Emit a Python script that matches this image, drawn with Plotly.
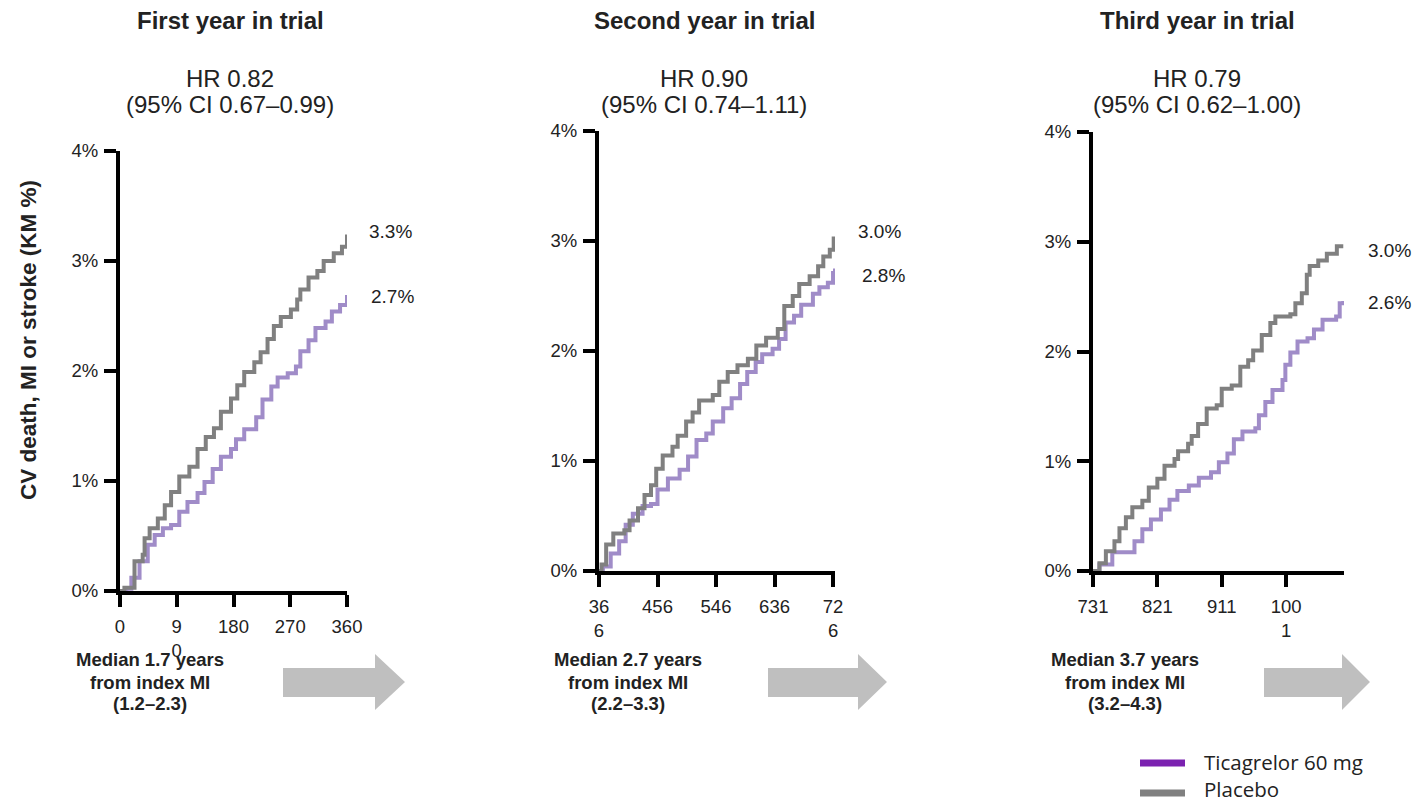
import plotly.graph_objects as go

W, H = 1417, 802

# ---- data: cumulative KM event rate (%) by day since randomisation ----
p1_days_placebo = [0, 7, 23, 36, 39, 47, 60, 71, 81, 94, 110, 123, 136, 149, 160, 176, 186, 197, 213, 223, 234, 244, 255, 271, 281, 286, 299, 313, 323, 339, 352, 360]
p1_pct_placebo = [0, 0.03, 0.27, 0.33, 0.48, 0.57, 0.66, 0.78, 0.90, 1.04, 1.13, 1.29, 1.40, 1.48, 1.63, 1.75, 1.87, 1.99, 2.08, 2.17, 2.29, 2.41, 2.49, 2.56, 2.65, 2.74, 2.85, 2.91, 3.00, 3.07, 3.13, 3.24]
p1_days_tica = [0, 10, 18, 31, 44, 55, 68, 81, 94, 107, 123, 134, 147, 160, 176, 184, 197, 216, 226, 240, 250, 266, 279, 286, 299, 310, 326, 336, 349, 360]
p1_pct_tica = [0, 0.02, 0.12, 0.27, 0.42, 0.51, 0.57, 0.60, 0.72, 0.81, 0.89, 0.99, 1.11, 1.22, 1.29, 1.38, 1.47, 1.58, 1.74, 1.86, 1.94, 1.98, 2.04, 2.18, 2.28, 2.39, 2.45, 2.54, 2.60, 2.69]

p2_days_placebo = [366, 370, 377, 388, 405, 413, 426, 436, 446, 454, 464, 479, 487, 500, 510, 520, 541, 551, 564, 579, 595, 608, 623, 641, 651, 664, 674, 690, 703, 711, 721, 727]
p2_pct_placebo = [0, 0.06, 0.24, 0.34, 0.37, 0.46, 0.57, 0.69, 0.78, 0.93, 1.05, 1.13, 1.23, 1.36, 1.44, 1.55, 1.60, 1.72, 1.81, 1.87, 1.93, 2.05, 2.12, 2.20, 2.41, 2.50, 2.61, 2.68, 2.77, 2.86, 2.92, 3.04]
p2_days_tica = [366, 372, 384, 397, 407, 418, 433, 446, 456, 472, 490, 503, 516, 531, 541, 557, 570, 583, 594, 607, 617, 633, 643, 653, 666, 677, 695, 705, 718, 726, 729]
p2_pct_tica = [0, 0.04, 0.16, 0.27, 0.42, 0.52, 0.59, 0.61, 0.74, 0.84, 0.92, 1.04, 1.19, 1.25, 1.36, 1.48, 1.57, 1.70, 1.81, 1.90, 1.97, 2.02, 2.11, 2.26, 2.32, 2.42, 2.52, 2.58, 2.62, 2.71, 2.75]

p3_days_placebo = [731, 740, 749, 761, 768, 777, 786, 800, 809, 821, 831, 845, 850, 864, 869, 878, 890, 904, 911, 925, 937, 948, 955, 967, 979, 986, 1007, 1014, 1023, 1030, 1034, 1046, 1058, 1072, 1081]
p3_pct_placebo = [0, 0.07, 0.18, 0.27, 0.39, 0.49, 0.58, 0.64, 0.76, 0.84, 0.96, 1.02, 1.09, 1.16, 1.23, 1.34, 1.48, 1.51, 1.66, 1.69, 1.86, 1.92, 2.01, 2.15, 2.26, 2.32, 2.34, 2.44, 2.53, 2.70, 2.78, 2.83, 2.89, 2.96, 2.96]
p3_days_tica = [731, 740, 751, 758, 777, 789, 800, 812, 826, 838, 849, 865, 879, 896, 907, 919, 928, 940, 958, 963, 972, 982, 996, 1000, 1007, 1017, 1031, 1040, 1052, 1071, 1076, 1081]
p3_pct_tica = [0, 0.06, 0.06, 0.17, 0.17, 0.27, 0.38, 0.47, 0.56, 0.65, 0.73, 0.78, 0.85, 0.90, 0.99, 1.07, 1.20, 1.27, 1.30, 1.42, 1.54, 1.65, 1.74, 1.88, 1.99, 2.09, 2.12, 2.20, 2.29, 2.32, 2.44, 2.46]

# ---- tick labels ----
y_tickvals = [0, 1, 2, 3, 4]
y_ticktext = ["0%", "1%", "2%", "3%", "4%"]
p1_tickvals = [0, 90, 180, 270, 360]
p1_ticktext = ["0", "9<br>0", "180", "270", "360"]
p2_tickvals = [366, 456, 546, 636, 726]
p2_ticktext = ["36<br>6", "456", "546", "636", "72<br>6"]
p3_tickvals = [731, 821, 911, 1001]
p3_ticktext = ["731", "821", "911", "100<br>1"]

titles = ["First year in trial", "Second year in trial", "Third year in trial"]
hr_lines = ["HR 0.82", "HR 0.90", "HR 0.79"]
ci_lines = ["(95% CI 0.67–0.99)", "(95% CI 0.74–1.11)", "(95% CI 0.62–1.00)"]
median_lines = [
    ["Median 1.7 years", "from index MI", "(1.2–2.3)"],
    ["Median 2.7 years", "from index MI", "(2.2–3.3)"],
    ["Median 3.7 years", "from index MI", "(3.2–4.3)"],
]
end_labels_placebo = ["3.3%", "3.0%", "3.0%"]
end_labels_tica = ["2.7%", "2.8%", "2.6%"]
series_names = ["Ticagrelor 60 mg", "Placebo"]

# ---- styling ----
PURPLE_LINE = "#A08CC8"
PURPLE_KEY = "#7B22B0"
GRAY = "#808080"
ARROW = "#BFBFBF"
TXT = "#222222"
FONT = "Liberation Sans, Arial, sans-serif"


def px(x):
    return x / W


def py(y):
    return 1 - y / H


# panel geometry in pixels: left, right, top(4%), bottom(0%), x range
panels = [
    dict(l=120, r=347, t=151, b=591, rng=[0, 360], tv=p1_tickvals, tt=p1_ticktext,
         plc=(p1_days_placebo, p1_pct_placebo), tic=(p1_days_tica, p1_pct_tica)),
    dict(l=599, r=835, t=131, b=571, rng=[366, 729], tv=p2_tickvals, tt=p2_ticktext,
         plc=(p2_days_placebo, p2_pct_placebo), tic=(p2_days_tica, p2_pct_tica)),
    dict(l=1093, r=1344, t=132, b=571, rng=[731, 1082], tv=p3_tickvals, tt=p3_ticktext,
         plc=(p3_days_placebo, p3_pct_placebo), tic=(p3_days_tica, p3_pct_tica)),
]

fig = go.Figure()
layout = dict(
    width=W, height=H, margin=dict(l=0, r=0, t=0, b=0, autoexpand=False),
    paper_bgcolor="white", plot_bgcolor="white", showlegend=False,
    font=dict(family=FONT, color=TXT),
)

for i, p in enumerate(panels):
    n = "" if i == 0 else str(i + 1)
    xa, ya = "x" + n, "y" + n
    for (d, v), col in ((p["tic"], PURPLE_LINE), (p["plc"], GRAY)):
        fig.add_trace(go.Scatter(x=d, y=v, xaxis=xa, yaxis=ya, mode="lines",
                                 line=dict(color=col, width=4, shape="hv"),
                                 hoverinfo="skip", cliponaxis=False))
    common = dict(showgrid=False, zeroline=False, showline=True, linecolor="black",
                  linewidth=4, ticks="outside", ticklen=12, tickwidth=4,
                  tickcolor="black", tickfont=dict(size=18.5, color=TXT, family=FONT),
                  automargin=False)
    layout["xaxis" + n] = dict(common, domain=[px(p["l"]), px(p["r"])], range=p["rng"],
                               anchor=ya, tickmode="array", tickvals=p["tv"],
                               ticktext=p["tt"], ticklabelstandoff=4)
    layout["yaxis" + n] = dict(common, domain=[py(p["b"]), py(p["t"])], range=[0, 4],
                               anchor=xa, tickmode="array", tickvals=y_tickvals,
                               ticktext=y_ticktext, ticklabelstandoff=2)

fig.update_layout(**layout)

ann = []


def text(x, y, s, size, bold=False, anchor="center", family=FONT, angle=0):
    ann.append(dict(x=px(x), y=py(y), xref="paper", yref="paper", showarrow=False,
                    text=f"<b>{s}</b>" if bold else s, xanchor=anchor, yanchor="middle",
                    textangle=angle, borderpad=0,
                    font=dict(size=size, color=TXT, family=family)))


title_x = [230, 704, 1197]
for i in range(3):
    text(title_x[i], 20, titles[i], 24, bold=True)
    text(title_x[i], 78, hr_lines[i], 24)
    text(title_x[i], 104, ci_lines[i], 24)

# end-of-curve labels
pl_pos = [(368, 231), (857, 231), (1367, 250)]
ti_pos = [(370, 296), (861, 275), (1367, 303)]
for i in range(3):
    text(pl_pos[i][0], pl_pos[i][1], end_labels_placebo[i], 19, anchor="left")
    text(ti_pos[i][0], ti_pos[i][1], end_labels_tica[i], 19, anchor="left")

# median follow-up text
med_x = [150, 628, 1125]
for i in range(3):
    for j, yy in enumerate([659, 682, 703]):
        text(med_x[i], yy, median_lines[i][j], 18.5, bold=True)

# y-axis title
text(28, 340, "CV death, MI or stroke (KM %)", 22.5, bold=True, angle=-90)

# legend
LEG_FONT = "Open Sans, sans-serif"
text(1203, 762, series_names[0], 20.5, anchor="left", family=LEG_FONT)
text(1203, 789, series_names[1], 20.5, anchor="left", family=LEG_FONT)
fig.update_layout(annotations=ann)

shapes = []
shapes.append(dict(type="line", xref="paper", yref="paper", x0=px(1140), x1=px(1185),
                   y0=py(763), y1=py(763), line=dict(color=PURPLE_KEY, width=7)))
shapes.append(dict(type="line", xref="paper", yref="paper", x0=px(1140), x1=px(1185),
                   y0=py(793), y1=py(793), line=dict(color=GRAY, width=7)))

# block arrows between panels
arrows = [(283, 375, 405), (768, 858, 887), (1264, 1342, 1370)]
for x0, xh, xt in arrows:
    pts = [(x0, 668), (xh, 668), (xh, 654), (xt, 682), (xh, 710), (xh, 697), (x0, 697)]
    path = "M " + " L ".join(f"{px(a):.5f},{py(b):.5f}" for a, b in pts) + " Z"
    shapes.append(dict(type="path", xref="paper", yref="paper", path=path,
                       fillcolor=ARROW, line=dict(width=0)))
fig.update_layout(shapes=shapes)

fig.write_html("out.html")
